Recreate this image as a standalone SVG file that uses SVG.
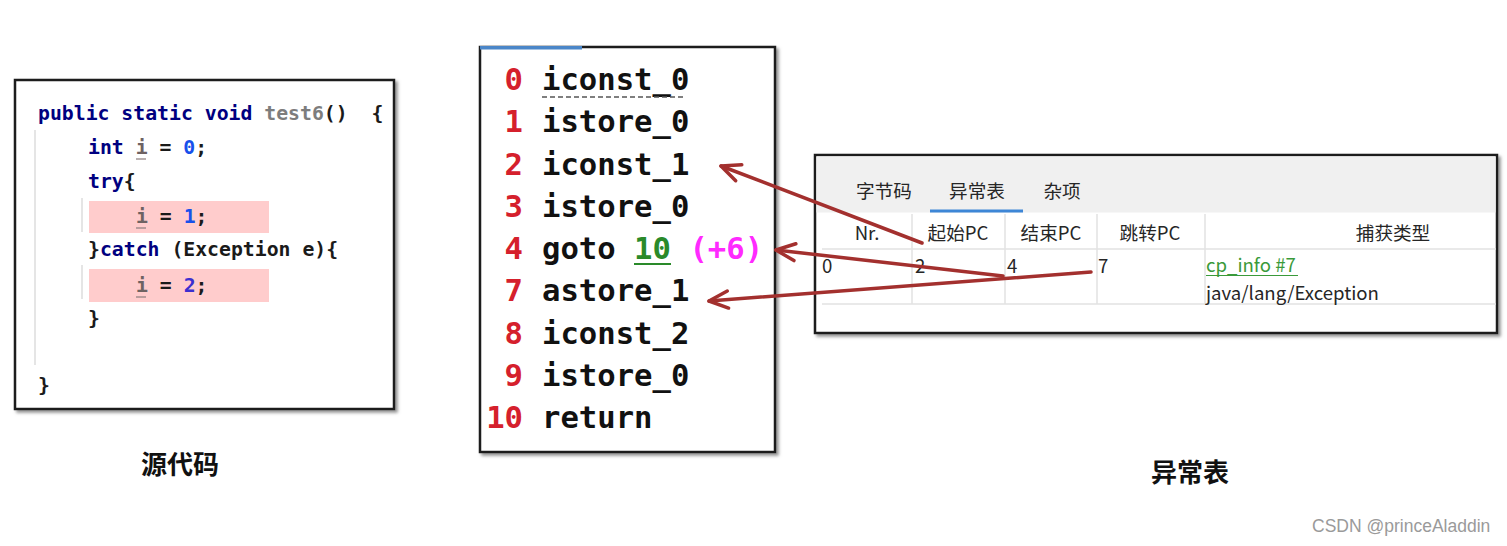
<svg xmlns="http://www.w3.org/2000/svg" width="1507" height="546" viewBox="0 0 1507 546">
<style>
.box{fill:#fff;stroke:#1e1e1e;stroke-width:2.5}
.code{font-family:"DejaVu Sans Mono","Liberation Mono",monospace;font-weight:bold;font-size:19.8px;fill:#1a1a1a}
.kw{fill:#000080}
.var{fill:#6e6262}
.num{fill:#1750eb}
.guide{stroke:#dcdcdc;stroke-width:1.5}
.bc{font-family:"DejaVu Sans Mono","Liberation Mono",monospace;font-weight:bold;font-size:30.6px;fill:#111}
.bn{fill:#d5202c;text-anchor:end}
.ui{font-family:"Noto Sans CJK SC","Noto Sans",sans-serif;font-size:18.6px;fill:#262626}
.link{fill:#3a9a3a}
.sep{stroke:#e2e2e2;stroke-width:1.5}
.cap{font-family:"Noto Sans CJK SC","Noto Sans",sans-serif;font-weight:bold;font-size:26px;fill:#111;text-anchor:middle}
.arrow{fill:none;stroke:#a3302e;stroke-width:3.5;stroke-linecap:round;marker-end:url(#chev)}
</style>
<defs>
<filter id="sh" x="-5%" y="-5%" width="110%" height="112%">
<feDropShadow dx="2.5" dy="2.5" stdDeviation="1.5" flood-color="#777" flood-opacity="0.8"/>
</filter>
<marker id="chev" markerUnits="userSpaceOnUse" viewBox="-22 -12 26 24" markerWidth="26" markerHeight="24" refX="0" refY="0" orient="auto">
<path d="M-19,-8.5 L0,0 L-19,8.5" fill="none" stroke="#a3302e" stroke-width="3.5" stroke-linecap="round" stroke-linejoin="round"/>
</marker>
</defs>
<rect width="1507" height="546" fill="#fff"/>

<g id="source-code">
<rect class="box" x="15" y="80" width="379" height="329" filter="url(#sh)"/>
<rect x="89" y="201" width="180" height="32" fill="#ffcccc"/>
<rect x="89" y="269" width="180" height="33" fill="#ffcccc"/>
<line class="guide" x1="35" y1="130" x2="35" y2="365"/>
<line class="guide" x1="82" y1="198" x2="82" y2="232"/>
<line class="guide" x1="82" y1="265" x2="82" y2="299"/>
<text class="code" x="38" y="120" xml:space="preserve"><tspan class="kw">public static void</tspan><tspan fill="#7d7d7d"> test6</tspan>()  {</text>
<text class="code" x="88" y="154" xml:space="preserve"><tspan class="kw">int</tspan> <tspan class="var">i</tspan> = <tspan class="num">0</tspan>;</text>
<line x1="136" y1="159" x2="146" y2="159" stroke="#8a7c7c" stroke-width="1.2"/>
<text class="code" x="88" y="188" xml:space="preserve"><tspan class="kw">try</tspan>{</text>
<text class="code" x="136" y="223" xml:space="preserve"><tspan class="var">i</tspan> = <tspan class="num">1</tspan>;</text>
<line x1="136" y1="228" x2="146" y2="228" stroke="#8a7c7c" stroke-width="1.2"/>
<text class="code" x="88" y="256" xml:space="preserve">}<tspan class="kw">catch</tspan> (Exception e){</text>
<text class="code" x="136" y="292" xml:space="preserve"><tspan class="var">i</tspan> = <tspan style="fill:#3b2fd0">2</tspan>;</text>
<line x1="136" y1="297" x2="146" y2="297" stroke="#8a7c7c" stroke-width="1.2"/>
<text class="code" x="88" y="325">}</text>
<text class="code" x="38" y="392">}</text>
</g>

<g id="bytecode">
<rect class="box" x="480" y="47" width="295" height="405" filter="url(#sh)"/>
<rect x="480" y="46" width="102" height="3.5" fill="#4a86c8"/>
<text class="bc bn" x="523" y="90">0</text>
<text class="bc" x="542" y="90">iconst_0</text>
<line x1="542" y1="97" x2="686" y2="97" stroke="#555" stroke-width="1.5" stroke-dasharray="5,3"/>
<text class="bc bn" x="523" y="132.3">1</text>
<text class="bc" x="542" y="132.3">istore_0</text>
<text class="bc bn" x="523" y="174.5">2</text>
<text class="bc" x="542" y="174.5">iconst_1</text>
<text class="bc bn" x="523" y="216.8">3</text>
<text class="bc" x="542" y="216.8">istore_0</text>
<text class="bc bn" x="523" y="259">4</text>
<text class="bc" x="542" y="259" xml:space="preserve">goto <tspan fill="#2a8a2a">10</tspan> <tspan fill="#ff2aff">(+6)</tspan></text>
<line x1="634" y1="264" x2="671" y2="264" stroke="#2a8a2a" stroke-width="2"/>
<text class="bc bn" x="523" y="301.3">7</text>
<text class="bc" x="542" y="301.3">astore_1</text>
<text class="bc bn" x="523" y="343.5">8</text>
<text class="bc" x="542" y="343.5">iconst_2</text>
<text class="bc bn" x="523" y="385.8">9</text>
<text class="bc" x="542" y="385.8">istore_0</text>
<text class="bc bn" x="523" y="428">10</text>
<text class="bc" x="542" y="428">return</text>
</g>

<g id="exception-table">
<rect class="box" x="815" y="155" width="682" height="178" filter="url(#sh)"/>
<rect x="816.5" y="156.5" width="679" height="56" fill="#f0f0f0"/>
<text class="ui" x="884" y="198" text-anchor="middle">字节码</text>
<text class="ui" x="977" y="198" text-anchor="middle">异常表</text>
<text class="ui" x="1062" y="198" text-anchor="middle">杂项</text>
<rect x="930" y="209.5" width="93" height="3" fill="#3d86d6"/>
<line class="sep" x1="822" y1="249" x2="1496" y2="249"/>
<line class="sep" x1="822" y1="304" x2="1496" y2="304"/>
<line class="sep" x1="912" y1="214" x2="912" y2="304"/>
<line class="sep" x1="1005" y1="214" x2="1005" y2="304"/>
<line class="sep" x1="1097" y1="214" x2="1097" y2="304"/>
<line class="sep" x1="1205" y1="214" x2="1205" y2="304"/>
<text class="ui" x="867" y="240" text-anchor="middle">Nr.</text>
<text class="ui" x="958" y="240" text-anchor="middle">起始PC</text>
<text class="ui" x="1051" y="240" text-anchor="middle">结束PC</text>
<text class="ui" x="1150" y="240" text-anchor="middle">跳转PC</text>
<text class="ui" x="1393" y="240" text-anchor="middle">捕获类型</text>
<text class="ui" x="822" y="273">0</text>
<text class="ui" x="915" y="273">2</text>
<text class="ui" x="1007" y="273">4</text>
<text class="ui" x="1098" y="273">7</text>
<text class="ui link" x="1206" y="272">cp_info #7</text>
<line x1="1206" y1="275.5" x2="1298" y2="275.5" stroke="#3a9a3a" stroke-width="1.2"/>
<text class="ui" x="1206" y="300">java/lang/Exception</text>
</g>

<g id="connectors">
<path class="arrow" d="M922,243 L721,166"/>
<path class="arrow" d="M1003,276 L776,250"/>
<path class="arrow" d="M1091,272 L709,301"/>
</g>

<g id="captions">
<text class="cap" x="180" y="474">源代码</text>
<text class="cap" x="1190" y="482">异常表</text>
</g>
<text x="1312" y="532" font-family="Liberation Sans, Arial, sans-serif" font-size="17.5" fill="#9a9a9a">CSDN @princeAladdin</text>
</svg>
